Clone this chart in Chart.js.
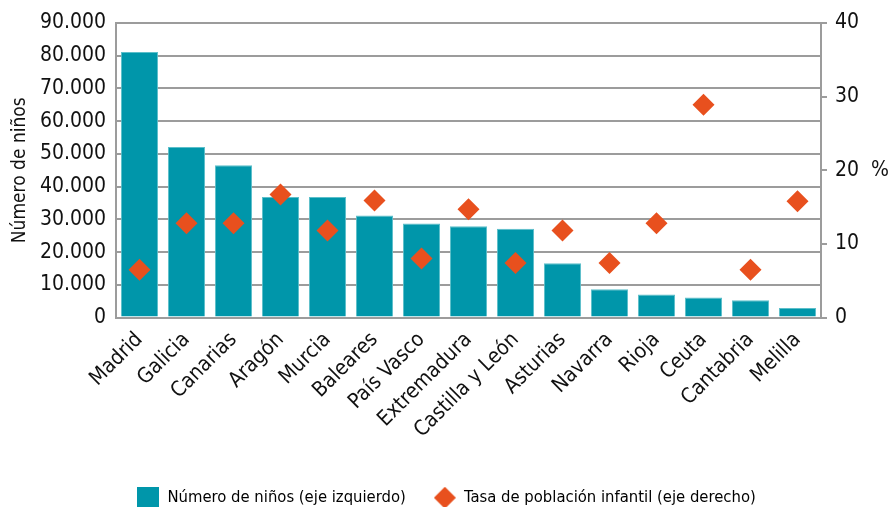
<!DOCTYPE html>
<html>
<head>
<meta charset="utf-8">
<script src="https://cdn.jsdelivr.net/npm/chart.js@4/dist/chart.umd.min.js"></script>
<style>
  html, body { margin: 0; padding: 0; background: #fff; }
  #wrap { width: 893px; height: 507px; }
</style>
</head>
<body>
<div id="wrap"><canvas id="chart" width="893" height="507"></canvas></div>
<script>
// Comunidades, ordered by number of children
const regions = ['Madrid', 'Galicia', 'Canarias', 'Aragón', 'Murcia', 'Baleares', 'País Vasco',
    'Extremadura', 'Castilla y León', 'Asturias', 'Navarra', 'Rioja', 'Ceuta', 'Cantabria', 'Melilla'];

// Número de niños (left axis)
const numChildren = [81100, 52100, 46500, 36800, 36800, 31200, 28700,
    27900, 27100, 16600, 8600, 7000, 6100, 5300, 2900];

// Tasa de población infantil, % (right axis)
const childRate = [6.5, 12.8, 12.8, 16.7, 11.8, 15.9, 8.0,
    14.7, 7.4, 11.8, 7.4, 12.8, 28.9, 6.5, 15.8];

const leftTicks = { min: 0, max: 90000, step: 10000 };
const rightTicks = { min: 0, max: 40, step: 10 };

const TEAL = '#0096aa';
const ORANGE = '#e8501e';
const GRID = '#9c9c9c';
const FONT = '"DejaVu Sans Condensed", "DejaVu Sans", sans-serif';

Chart.defaults.font.family = FONT;
Chart.defaults.color = '#111';

function fmtThousands(v) {
    return String(v).replace(/\B(?=(\d{3})+(?!\d))/g, '.');
}

// small canvases used as legend markers
function legendIcon(shape, color, size) {
    const c = document.createElement('canvas');
    c.width = size; c.height = size;
    const g = c.getContext('2d');
    g.fillStyle = color;
    if (shape === 'rect') {
        g.fillRect(0, 0, size, size);
    } else {
        g.beginPath();
        g.moveTo(size / 2, 0);
        g.lineTo(size, size / 2);
        g.lineTo(size / 2, size);
        g.lineTo(0, size / 2);
        g.closePath();
        g.fill();
    }
    return c;
}
const icons = [legendIcon('rect', TEAL, 22), legendIcon('diamond', ORANGE, 22)];

new Chart(document.getElementById('chart'), {
    type: 'bar',
    data: {
        labels: regions,
        datasets: [{
            label: 'Número de niños (eje izquierdo)',
            data: numChildren,
            backgroundColor: TEAL,
            borderColor: '#5cbfca',
            borderWidth: 1,
            categoryPercentage: 1,
            barPercentage: 0.79,
            yAxisID: 'y',
            order: 1
        }, {
            type: 'line',
            label: 'Tasa de población infantil (eje derecho)',
            data: childRate,
            showLine: false,
            pointStyle: 'rectRot',
            pointRadius: 11,
            pointHoverRadius: 11,
            pointBorderWidth: 0,
            backgroundColor: ORANGE,
            borderColor: ORANGE,
            yAxisID: 'y1',
            order: 0
        }]
    },
    options: {
        responsive: false,
        animation: false,
        layout: { padding: { top: 23, left: 0, right: 0, bottom: -9 } },
        plugins: {
            tooltip: { enabled: false },
            legend: {
                position: 'bottom',
                labels: {
                    usePointStyle: true,
                    pointStyleWidth: 22,
                    padding: 28,
                    font: { size: 16.5 },
                    color: '#111',
                    generateLabels: chart => chart.data.datasets.map((ds, i) => ({
                        text: ds.label,
                        fillStyle: ds.backgroundColor,
                        strokeStyle: ds.backgroundColor,
                        lineWidth: 0,
                        pointStyle: icons[i],
                        datasetIndex: i,
                        hidden: false
                    }))
                }
            }
        },
        scales: {
            x: {
                grid: { display: false },
                border: { color: GRID, width: 2 },
                ticks: {
                    autoSkip: false,
                    minRotation: 45,
                    maxRotation: 45,
                    padding: 2,
                    font: { size: 21 }
                },
                afterFit: s => { s.height = 144; }
            },
            y: {
                position: 'left',
                min: leftTicks.min,
                max: leftTicks.max,
                grid: { color: GRID, lineWidth: 2, drawTicks: false },
                border: { color: GRID, width: 2 },
                ticks: {
                    stepSize: leftTicks.step,
                    padding: 10,
                    font: { size: 21 },
                    callback: v => fmtThousands(v)
                },
                title: {
                    display: true,
                    text: 'Número de niños',
                    font: { size: 19 },
                    padding: { top: 9, bottom: 0 }
                },
                afterFit: s => { s.width = 116; }
            },
            y1: {
                position: 'right',
                min: rightTicks.min,
                max: rightTicks.max,
                grid: { drawOnChartArea: false, color: GRID, lineWidth: 2, tickLength: 6 },
                border: { color: GRID, width: 2 },
                ticks: {
                    stepSize: rightTicks.step,
                    padding: 8,
                    font: { size: 21 },
                    callback: v => (v === 20 ? '20  %' : v)
                },
                afterFit: s => { s.width = 72; }
            }
        }
    }
});
</script>
</body>
</html>
